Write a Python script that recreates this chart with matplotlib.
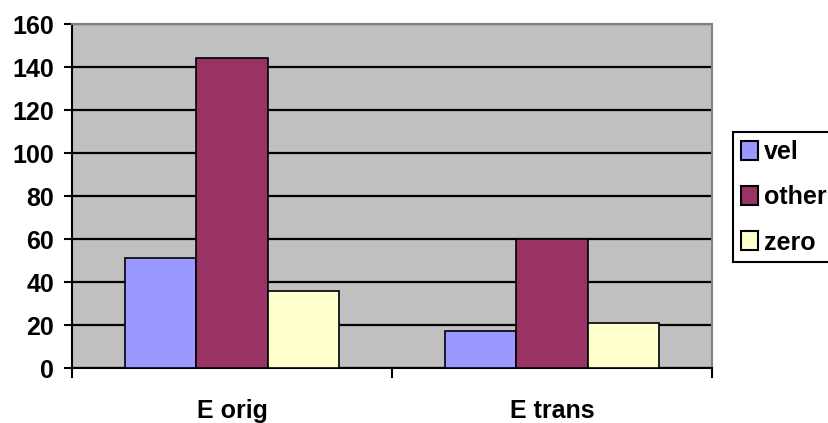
import matplotlib
matplotlib.use('Agg')
import matplotlib.pyplot as plt
import numpy as np

categories = ['E orig', 'E trans']
series = ['vel', 'other', 'zero']
vel = [51, 17]
other = [144, 60]
zero = [36, 21]
colors = ['#9999FF', '#993366', '#FFFFCC']

plt.rcParams['font.family'] = ['Liberation Sans', 'DejaVu Sans']
plt.rcParams['font.weight'] = 'bold'

fig = plt.figure(figsize=(8.29, 4.23), dpi=100)
ax = fig.add_axes([72 / 829, 1 - 368 / 423, 640 / 829, 344 / 423])
ax.set_facecolor('#C0C0C0')

x = np.arange(len(categories))
w = 0.222
for i, (name, vals) in enumerate(zip(series, [vel, other, zero])):
    ax.bar(x + (i - 1) * w, vals, w, color=colors[i], edgecolor='black',
           linewidth=1.2, label=name, zorder=3)

ax.set_xlim(-0.5, 1.5)
ax.set_ylim(0, 160)
ax.set_yticks(range(0, 161, 20))
ax.yaxis.grid(True, color='black', linewidth=1.6, zorder=1)
ax.set_axisbelow(True)

ax.set_xticks([-0.5, 0.5, 1.5])
ax.set_xticklabels([])
ax.set_xticks(x, minor=True)
ax.set_xticklabels(categories, minor=True, fontsize=18, fontweight='bold')
ax.tick_params(axis='x', which='minor', length=0, pad=22)
ax.tick_params(axis='x', which='major', length=7, width=1.5, direction='out')
ax.tick_params(axis='y', length=6, width=1.5, pad=7, labelsize=18)

for s in ['top', 'right']:
    ax.spines[s].set_color('#808080')
    ax.spines[s].set_linewidth(1.5)
for s in ['left', 'bottom']:
    ax.spines[s].set_color('black')
    ax.spines[s].set_linewidth(1.5)

leg = ax.legend(loc='upper left', bbox_to_anchor=(733 / 829, 1 - 132 / 423),
                bbox_transform=fig.transFigure, borderaxespad=0,
                fancybox=False, edgecolor='black', framealpha=1,
                prop={'size': 18, 'weight': 'bold'}, handlelength=0.7,
                handleheight=0.8, handletextpad=0.22, labelspacing=0.85,
                borderpad=0.32)
leg.get_frame().set_linewidth(1.5)
for h in leg.legend_handles:
    h.set_linewidth(1.5)

fig.savefig('out.png', dpi=100)
